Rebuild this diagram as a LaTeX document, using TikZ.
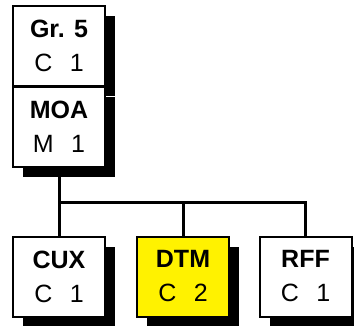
\documentclass[tikz,border=0pt]{standalone}
\usepackage{fontspec}
\setmainfont{Liberation Sans}
\usetikzlibrary{shadows}
\tikzset{
  segbox/.style={draw=black, line width=2pt, fill=white, minimum width=92pt, minimum height=80pt,
    inner sep=0pt, align=center, font=\fontsize{25}{34}\selectfont,
    drop shadow={shadow xshift=10pt, shadow yshift=-10pt, fill=black, opacity=1}},
  link/.style={line width=3pt}
}
\newcommand{\seg}[2]{\textbf{#1}\\#2}
\begin{document}
\begin{tikzpicture}[x=1pt, y=-1pt]
  \useasboundingbox (0,0) rectangle (354,325);
  %%%%% SEGMENTS %%%%%
  \node[segbox] (grp) at (59,46) {\seg{Gr. 5}{C\hspace{0.7em}1}};
  \node[segbox] (moa) at (59,127) {\seg{MOA}{M\hspace{0.7em}1}};
  \node[segbox] (cux) at (59,276.5) {\seg{CUX}{C\hspace{0.7em}1}};
  \node[segbox, fill=yellow] (dtm) at (183,276.5) {\seg{DTM}{C\hspace{0.7em}2}};
  \node[segbox] (rff) at (305.5,276.5) {\seg{RFF}{C\hspace{0.7em}1}};
  %%%%% LINKS %%%%%
  \coordinate (bus) at (59,202);
  \draw[link] (moa.south) -- (bus) -| (rff.north);
  \draw[link] (bus) -- (cux.north);
  \draw[link] (dtm.north) -- (dtm.north |- bus);
\end{tikzpicture}
\end{document}
